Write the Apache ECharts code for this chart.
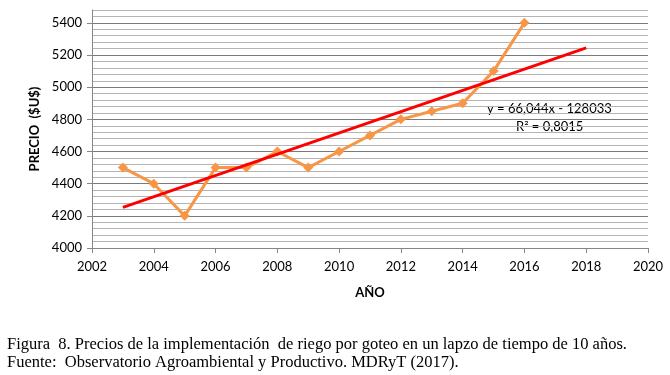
<!DOCTYPE html>
<html>
<head>
<meta charset="utf-8">
<script src="https://cdn.jsdelivr.net/npm/echarts@6/dist/echarts.min.js"></script>
<style>
html,body{margin:0;padding:0;background:#fff;}
#chart{width:670px;height:375px;}
</style>
</head>
<body>
<div id="chart"></div>
<script>
var years = [2003, 2004, 2005, 2006, 2007, 2008, 2009, 2010, 2011, 2012, 2013, 2014, 2015, 2016];
var prices = [4500, 4400, 4200, 4500, 4500, 4600, 4500, 4600, 4700, 4800, 4850, 4900, 5100, 5400];
var trendX = [2003, 2018];
var trendY = [4253, 5244];
var yTicks = [4000, 4200, 4400, 4600, 4800, 5000, 5200, 5400];
var xTicks = [2002, 2004, 2006, 2008, 2010, 2012, 2014, 2016, 2018, 2020];
var equationText = 'y = 66,044x - 128033';
var r2Text = 'R² = 0,8015';
var yTitle = 'PRECIO  ($U$)';
var xTitle = 'AÑO';
var caption1 = 'Figura  8. Precios de la implementación  de riego por goteo en un lapzo de tiempo de 10 años.';
var caption2 = 'Fuente:  Observatorio Agroambiental y Productivo. MDRyT (2017).';

var chart = echarts.init(document.getElementById('chart'));
var seriesData = years.map(function (y, i) { return [y, prices[i]]; });
var trendData = trendX.map(function (x, i) { return [x, trendY[i]]; });
var plain = function (v) { return String(v); };

chart.setOption({
  animation: false,
  backgroundColor: '#fff',
  textStyle: { fontFamily: 'Lato' },
  grid: { left: 92, right: 22, top: 10, bottom: 127 },
  xAxis: {
    type: 'value', min: 2002, max: 2020, interval: 2,
    name: xTitle, nameLocation: 'middle', nameGap: 38,
    nameTextStyle: { fontFamily: 'Lato', fontWeight: 'bold', fontSize: 13, color: '#000' },
    axisLine: { show: true, lineStyle: { color: '#868686', width: 1 } },
    axisTick: { show: true, length: 5, lineStyle: { color: '#868686' } },
    axisLabel: { color: '#000', fontSize: 13, margin: 12, fontFamily: 'Lato', formatter: plain },
    splitLine: { show: false }
  },
  yAxis: [
    {
      type: 'value', min: 4000, max: 5480, interval: 40, position: 'left',
      axisLine: { show: false },
      axisTick: { show: false },
      axisLabel: { show: false },
      splitLine: { show: true, lineStyle: { color: ['#7a7a7a', '#b4b4b4', '#b4b4b4', '#b4b4b4', '#b4b4b4'], width: 1 } }
    },
    {
      type: 'value', min: 4000, max: 5480, interval: 200, position: 'left', offset: 0,
      name: yTitle, nameLocation: 'middle', nameGap: 50, nameRotate: 90,
      nameTextStyle: { fontFamily: 'Lato', fontWeight: 'bold', fontSize: 13, color: '#000' },
      axisLine: { show: true, lineStyle: { color: '#868686', width: 1 } },
      axisTick: { show: true, length: 5, lineStyle: { color: '#868686' }, customValues: yTicks },
      axisLabel: { color: '#000', fontSize: 13, margin: 10, fontFamily: 'Lato', customValues: yTicks, formatter: plain },
      splitLine: { show: false }
    }
  ],
  series: [
    {
      type: 'line', data: seriesData, symbol: 'diamond', symbolSize: 10, yAxisIndex: 0,
      lineStyle: { color: '#F79646', width: 3 },
      itemStyle: { color: '#F79646' }, z: 2
    },
    {
      type: 'line', data: trendData, symbol: 'none', yAxisIndex: 0,
      lineStyle: { color: '#FF0000', width: 3 }, z: 3
    }
  ],
  graphic: [
    { type: 'text', left: 487, top: 102, style: { text: equationText, font: '13px Lato', fill: '#000' } },
    { type: 'text', left: 516, top: 120, style: { text: r2Text, font: '13px Lato', fill: '#000' } },
    { type: 'text', left: 7, top: 336, style: { text: caption1, font: '16.5px "Liberation Serif"', fill: '#000' } },
    { type: 'text', left: 7, top: 354, style: { text: caption2, font: '16.5px "Liberation Serif"', fill: '#000' } }
  ]
});
</script>
</body>
</html>
